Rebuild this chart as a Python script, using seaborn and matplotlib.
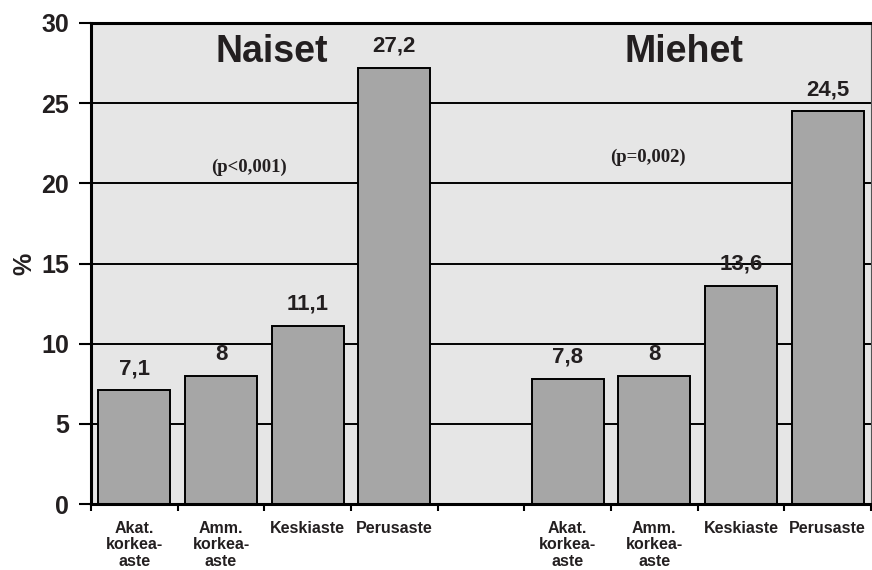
import matplotlib
matplotlib.use("Agg")
import matplotlib.pyplot as plt
import seaborn as sns
import pandas as pd
import numpy as np

# Education levels and shares (%) by sex
levels = ["Akat.\nkorkea-\naste", "Amm.\nkorkea-\naste", "Keskiaste", "Perusaste"]
groups = ["Naiset", "Miehet"]
naiset = [7.1, 8.0, 11.1, 27.2]
miehet = [7.8, 8.0, 13.6, 24.5]
value_labels_naiset = ["7,1", "8", "11,1", "27,2"]
value_labels_miehet = ["7,8", "8", "13,6", "24,5"]
p_values = ["(p<0,001)", "(p=0,002)"]
y_ticks = [0, 5, 10, 15, 20, 25, 30]

sns.set_theme(style="white")
plt.rcParams["font.family"] = ["Liberation Sans", "DejaVu Sans"]
plt.rcParams["font.weight"] = "bold"

TEXT = "#231f20"
BAR = "#a6a6a6"
BG = "#e6e6e6"
SERIF = ["Liberation Serif", "DejaVu Serif"]

# One empty slot separates the two groups
n = len(levels)
pos = list(range(n)) + [n + 1 + i for i in range(n)]
df = pd.DataFrame({
    "pos": pos,
    "value": naiset + miehet,
    "label": value_labels_naiset + value_labels_miehet,
    "level": levels + levels,
})

fig = plt.figure(figsize=(8.72, 5.70), dpi=100)
ax = fig.add_axes([91 / 872, 66 / 570, 780 / 872, 481 / 570])
ax.set_facecolor(BG)

# Horizontal gridlines behind bars
for yv in y_ticks[1:-1]:
    ax.axhline(yv, color="black", lw=1.4, zorder=0.5)

sns.barplot(data=df, x="pos", y="value", native_scale=True, width=0.83,
            color=BAR, saturation=1, edgecolor="black", linewidth=1.4,
            ax=ax, zorder=2)

for p_, v, lab in zip(df["pos"], df["value"], df["label"]):
    ax.annotate(lab, (p_, v), xytext=(0, 8), textcoords="offset points",
                ha="center", va="bottom", fontsize=16, fontweight="bold",
                color=TEXT)

ax.set_xlim(-0.5, 2 * n + 0.5)
ax.set_ylim(0, 30)

# Tick marks at slot boundaries, labels at slot centres
ax.set_xticks(np.arange(-0.5, 2 * n + 1, 1.0))
ax.set_xticklabels([])
centres = df["pos"].tolist()
ax.set_xticks(centres, minor=True)
ax.set_xticklabels(df["level"].tolist(), minor=True, fontsize=11.5,
                   fontweight="bold", color=TEXT, va="top", linespacing=1.15)
ax.tick_params(axis="x", which="major", direction="out", length=5,
               width=1.5, color="black", bottom=True)
ax.tick_params(axis="x", which="minor", length=0, pad=12)

ax.set_yticks(y_ticks)
ax.set_yticklabels([str(t) for t in y_ticks], fontsize=18,
                   fontweight="bold", color=TEXT)
ax.tick_params(axis="y", direction="out", length=9, width=1.5,
               color="black", left=True, pad=7)

ax.set_xlabel("")
ax.set_ylabel("%", fontsize=18, fontweight="bold", color=TEXT)
ax.yaxis.set_label_coords(-0.086, 0.5)
ax.yaxis.label.set_va("center")

for side in ["left", "bottom", "top"]:
    ax.spines[side].set_visible(True)
    ax.spines[side].set_color("black")
    ax.spines[side].set_linewidth(2.2)
ax.spines["right"].set_visible(True)
ax.spines["right"].set_color("#555555")
ax.spines["right"].set_linewidth(0.8)

# Group titles and significance notes
ax.text(1.58, 28.2, groups[0], ha="center", va="center", fontsize=27,
        fontweight="bold", color=TEXT)
ax.text(6.34, 28.2, groups[1], ha="center", va="center", fontsize=27,
        fontweight="bold", color=TEXT)
ax.text(1.32, 21.0, p_values[0], ha="center", va="center", fontsize=13.5,
        fontweight="bold", color=TEXT, family=SERIF)
ax.text(5.93, 21.6, p_values[1], ha="center", va="center", fontsize=13.5,
        fontweight="bold", color=TEXT, family=SERIF)

fig.savefig("out.png", dpi=100, facecolor="white")
